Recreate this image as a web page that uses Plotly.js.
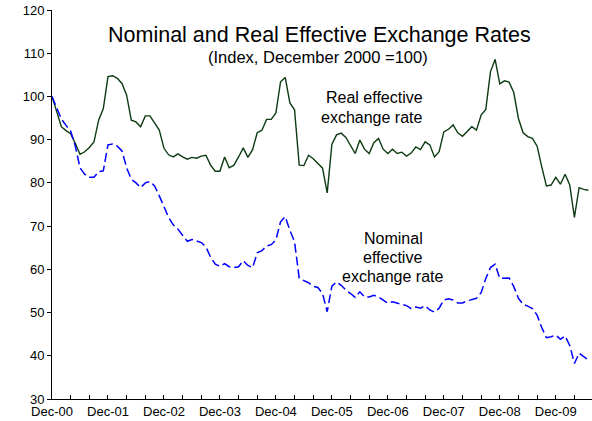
<!DOCTYPE html>
<html><head><meta charset="utf-8">
<script src="https://cdn.plot.ly/plotly-3.0.1.min.js"></script>
<style>html,body{margin:0;padding:0;background:#fff}#chart{width:592px;height:421px}</style>
</head><body><div id="chart"></div>
<script>
// Monthly data, Dec-2000 (index 0) to Jul-2010 (index 115)
const tickLabels = ["Dec-00","Dec-01","Dec-02","Dec-03","Dec-04","Dec-05","Dec-06","Dec-07","Dec-08","Dec-09"];
const tickPositions = [0,12,24,36,48,60,72,84,96,108];

const realRate = [
  100, 96.5, 93.0, 92.1, 91.4, 89.1, 86.6, 87.2, 88.2, 89.5, 94.5, 97.2,
  104.6, 104.8, 104.2, 103.0, 100.3, 94.5, 94.1, 93.0, 95.5, 95.5, 93.8, 92.2,
  88.0, 86.5, 86.0, 86.7, 86.0, 85.5, 85.9, 85.7, 86.2, 86.4, 84.1, 82.7,
  82.7, 86.0, 83.5, 84.1, 86.0, 88.1, 85.9, 87.7, 91.6, 92.2, 94.7, 94.7,
  96.2, 103.4, 104.4, 98.5, 96.9, 84.1, 84.0, 86.4, 85.6, 84.5, 83.4, 77.7,
  88.9, 91.1, 91.5, 90.5, 88.8, 86.8, 89.9, 87.8, 86.8, 89.3, 90.3, 87.8,
  86.8, 87.8, 86.8, 87.1, 86.2, 86.9, 88.3, 87.7, 89.5, 88.8, 86.0, 87.2,
  91.8, 92.4, 93.4, 91.6, 90.8, 91.8, 93.0, 92.2, 95.7, 97.0, 105.7, 108.6,
  102.9, 103.6, 103.3, 100.9, 94.9, 91.6, 90.7, 90.3, 88.5, 83.7, 79.3, 79.5,
  81.3, 79.7, 82.0, 79.5, 72.0, 78.9, 78.5, 78.3
];

const nominalRate = [
  100, 97.5, 94.8, 93.3, 92.0, 88.5, 83.5, 82.0, 81.3, 81.3, 82.6, 82.8,
  88.8, 89.0, 88.5, 87.4, 83.5, 80.8, 80.0, 78.9, 80.0, 80.3, 79.3, 77.0,
  74.5, 72.0, 70.3, 69.3, 67.9, 66.5, 66.9, 66.5, 66.2, 65.2, 62.8, 61.2,
  60.7, 61.3, 60.6, 60.4, 60.6, 62.0, 60.9, 60.4, 63.8, 64.3, 65.4, 65.7,
  66.8, 71.0, 72.2, 69.0, 66.4, 57.9, 57.3, 56.9, 56.1, 55.8, 54.4, 50.2,
  56.1, 57.1, 56.3, 55.2, 54.4, 53.5, 54.8, 53.6, 53.6, 54.0, 53.6, 52.9,
  52.2, 52.5, 52.2, 51.9, 51.6, 50.9, 51.3, 51.0, 51.6, 50.6, 50.1, 51.0,
  52.9, 53.2, 52.9, 52.2, 52.2, 52.7, 53.0, 53.3, 54.6, 57.9, 60.4, 61.2,
  57.9, 57.9, 58.0, 56.0, 53.3, 51.9, 51.5, 50.9, 49.4, 46.5, 44.2, 44.4,
  44.8, 43.8, 44.6, 42.4, 38.2, 40.6, 39.8, 39.0
];

const monthIndex = realRate.map((_, i) => i);

const FONT = "Liberation Sans, Arial, sans-serif";

const traces = [
  {
    x: monthIndex, y: realRate, type: "scatter", mode: "lines",
    name: "Real effective exchange rate",
    line: {color: "#0d3b12", width: 1.4}
  },
  {
    x: monthIndex, y: nominalRate, type: "scatter", mode: "lines",
    name: "Nominal effective exchange rate",
    line: {color: "#0000ff", width: 1.5, dash: "9px,4px"}
  }
];

// plot area: x 52..592 px, y 10..399 px
const px = v => (v - 52) / 540;
const py = v => (399 - v) / 389;

function ann(text, x, y, size) {
  return {text: text, xref: "paper", yref: "paper", x: px(x), y: py(y),
    xanchor: "center", yanchor: "middle", showarrow: false,
    font: {family: FONT, size: size, color: "#000"}};
}

const layout = {
  width: 592, height: 421,
  margin: {l: 52, r: 0, t: 10, b: 22},
  paper_bgcolor: "#fff", plot_bgcolor: "#fff",
  showlegend: false,
  font: {family: FONT, size: 13, color: "#000"},
  xaxis: {
    range: [0, 115.77],
    showline: true, linecolor: "#000", linewidth: 1,
    showgrid: false, zeroline: false,
    tickmode: "array", tickvals: tickPositions, ticktext: tickLabels,
    ticks: "inside", ticklen: 4, tickcolor: "#000",
    tickfont: {family: FONT, size: 13, color: "#000"},
    minor: {tickmode: "linear", tick0: 0, dtick: 4, ticks: "inside", ticklen: 4, tickcolor: "#000", showgrid: false}
  },
  yaxis: {
    range: [30, 120], dtick: 10, tick0: 30,
    showline: true, linecolor: "#000", linewidth: 1,
    showgrid: false, zeroline: false,
    ticks: "outside", ticklen: 4, tickcolor: "#000",
    tickfont: {family: FONT, size: 13, color: "#000"}
  },
  annotations: [
    ann("Nominal and Real Effective Exchange Rates", 319, 35, 21.5),
    ann("(Index, December 2000 =100)", 318, 57, 16.5),
    ann("Real effective", 374, 97.5, 16),
    ann("exchange rate", 372, 117, 16),
    ann("Nominal", 393, 238, 16),
    ann("effective", 392, 257, 16),
    ann("exchange rate", 392.5, 276, 16)
  ]
};

Plotly.newPlot("chart", traces, layout, {displayModeBar: false, staticPlot: true});
</script>
</body></html>
